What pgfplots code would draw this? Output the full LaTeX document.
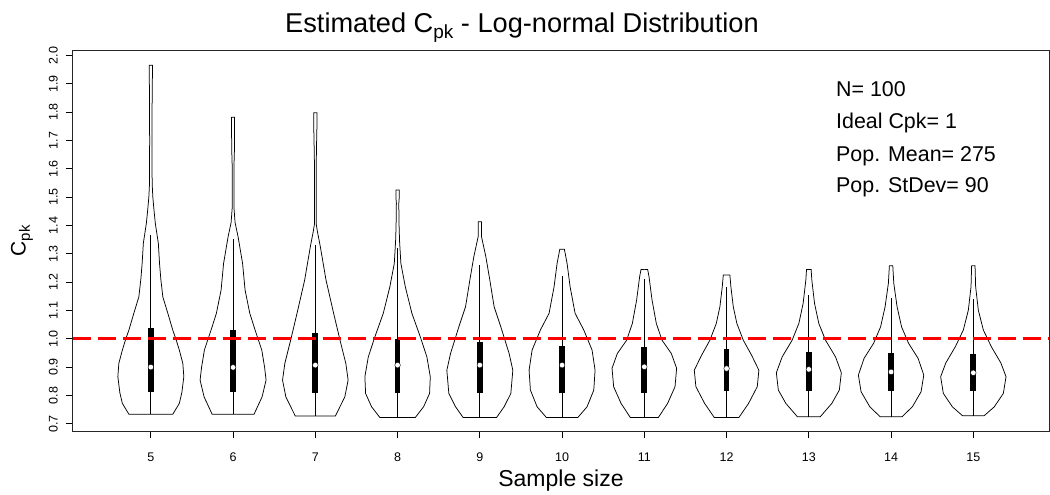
\documentclass[border=0pt]{standalone}
\usepackage{fontspec}
\setmainfont{Liberation Sans}
\usepackage{pgfplots}
\usepackage{pgfplotstable}
\pgfplotsset{compat=1.18}

% violin profiles: v = Cpk value, w = half width (px, 82.26 px per x unit)
\pgfplotstableread{
v w
0.734 0
0.734 22
0.772 28.5
0.81 31
0.866 33
0.913 32
0.96 28.5
1.00 25
1.03 22
1.09 17
1.148 12
1.21 10
1.266 8.7
1.337 7.5
1.407 4.5
1.46 3
1.50 2
1.55 1.3
1.70 1.2
1.85 1.3
1.966 1.7
1.966 0
}\vA
\pgfplotstableread{
v w
0.734 0
0.734 21
0.795 29
0.854 33
0.90 31.5
0.96 28.7
1.031 22
1.09 16.7
1.172 12
1.266 9.5
1.36 5
1.41 2
1.466 0.8
1.60 0.8
1.66 1.3
1.72 1.5
1.782 1.5
1.782 0
}\vB
\pgfplotstableread{
v w
0.727 0
0.727 20
0.795 29.5
0.854 32.8
0.913 30.5
0.995 24.7
1.09 18.3
1.207 10.7
1.325 5
1.38 2
1.407 0.8
1.60 0.8
1.70 1.3
1.75 1.6
1.798 1.7
1.798 0
}\vC
\pgfplotstableread{
v w
0.722 0
0.722 17.7
0.76 26
0.807 32
0.866 32.7
0.936 29.3
1.007 22.7
1.09 14.3
1.184 7.7
1.266 3.3
1.343 2
1.40 1.5
1.478 1.2
1.50 1.7
1.525 1.7
1.525 0
}\vD
\pgfplotstableread{
v w
0.722 0
0.722 16.7
0.76 24.3
0.807 31
0.889 33
0.948 29.3
1.042 21
1.113 14.3
1.207 10
1.29 6
1.36 1.7
1.413 1.7
1.413 0
}\vE
\pgfplotstableread{
v w
0.722 0
0.722 15.7
0.76 25
0.819 31.7
0.889 33
0.96 30
1.031 21.7
1.09 13
1.184 8
1.266 5
1.316 2.3
1.316 0
}\vF
\pgfplotstableread{
v w
0.722 0
0.722 14
0.772 23.3
0.831 30.7
0.896 32.3
0.948 27
0.995 17.7
1.054 12
1.137 7.7
1.219 4.7
1.245 3.3
1.245 0
}\vG
\pgfplotstableread{
v w
0.722 0
0.722 12.3
0.772 22
0.831 30.7
0.889 32.3
0.942 25
0.995 16.7
1.054 10.3
1.113 6.7
1.184 4.3
1.225 3.3
1.225 0
}\vH
\pgfplotstableread{
v w
0.725 0
0.725 11.5
0.772 23
0.819 30.5
0.880 32.5
0.936 26.7
0.995 16.7
1.054 10
1.125 5.7
1.207 3
1.245 2.3
1.245 0
}\vI
\pgfplotstableread{
v w
0.725 0
0.725 11
0.760 21.3
0.813 30
0.872 32.7
0.931 27
0.984 17.5
1.042 10.5
1.113 6
1.196 2.7
1.258 1.7
1.258 0
}\vJ
\pgfplotstableread{
v w
0.728 0
0.728 10.7
0.760 21
0.807 30
0.866 32.7
0.915 27.5
0.972 18
1.031 10
1.101 5
1.184 2.3
1.258 1.7
1.258 0
}\vK

\pgfplotsset{vio/.style={black, line width=0.75pt}}
\newcommand{\violin}[2]{%
  \addplot[vio] table[x expr={#1+\thisrow{w}/82.26}, y=v]{#2};
  \addplot[vio] table[x expr={#1-\thisrow{w}/82.26}, y=v]{#2};}
% center, min, q1, median, q3, upper whisker
\newcommand{\vstats}[6]{%
  \addplot[black, line width=0.75pt] coordinates {(#1,#2) (#1,#6)};
  \addplot[black, line width=5.8pt] coordinates {(#1,#3) (#1,#5)};
  \addplot[only marks, mark=*, mark size=2.8pt, mark options={draw=none, fill=white}] coordinates {(#1,#4)};}

\begin{document}
\begin{tikzpicture}
\useasboundingbox (-72.7pt,-63.3pt) rectangle (977.3pt,431.7pt);
\begin{axis}[
  at={(0pt,0pt)}, anchor=south west,
  scale only axis, width=976.3pt, height=381pt,
  xmin=4.05, xmax=15.92, ymin=0.672, ymax=2.017,
  axis line style={black!85, line width=0.8pt},
  xtick={5,6,7,8,9,10,11,12,13,14,15},
  ytick={0.7,0.8,0.9,1.0,1.1,1.2,1.3,1.4,1.5,1.6,1.7,1.8,1.9,2.0},
  xtick pos=bottom, ytick pos=left,
  tick align=outside, major tick length=6.5pt,
  tick style={black, line width=0.8pt},
  /pgf/number format/assume math mode=true,
  ticklabel style={font=\fontsize{12.5}{14}\selectfont},
  xticklabel shift=11pt,
  yticklabel shift=5pt,
  yticklabel style={rotate=90, anchor=south, /pgf/number format/.cd, fixed, fixed zerofill, precision=1},
]
\violin{5}{\vA}
\violin{6}{\vB}
\violin{7}{\vC}
\violin{8}{\vD}
\violin{9}{\vE}
\violin{10}{\vF}
\violin{11}{\vG}
\violin{12}{\vH}
\violin{13}{\vI}
\violin{14}{\vJ}
\violin{15}{\vK}
\vstats{5}{0.734}{0.812}{0.900}{1.038}{1.366}
\vstats{6}{0.734}{0.813}{0.899}{1.031}{1.354}
\vstats{7}{0.727}{0.807}{0.907}{1.021}{1.331}
\vstats{8}{0.722}{0.807}{0.907}{1.000}{1.320}
\vstats{9}{0.722}{0.807}{0.907}{0.988}{1.260}
\vstats{10}{0.722}{0.807}{0.907}{0.975}{1.221}
\vstats{11}{0.722}{0.809}{0.901}{0.972}{1.210}
\vstats{12}{0.722}{0.817}{0.895}{0.963}{1.184}
\vstats{13}{0.725}{0.817}{0.892}{0.952}{1.154}
\vstats{14}{0.725}{0.817}{0.883}{0.951}{1.143}
\vstats{15}{0.728}{0.817}{0.880}{0.946}{1.139}
\addplot[red, line width=2.8pt, dash pattern=on 18pt off 7pt] coordinates {(4.05,1.0) (15.92,1.0)};
\end{axis}
\node[anchor=base west, inner sep=0pt, font=\fontsize{27.2}{30}\selectfont] at (212.3pt,399.5pt)
  {Estimated C\raisebox{-0.22em}{\fontsize{19}{20}\selectfont pk} - Log-normal Distribution};
\node[anchor=base, inner sep=0pt, font=\fontsize{23}{26}\selectfont] at (488.3pt,-54.8pt) {Sample size};
\node[rotate=90, inner sep=0pt, font=\fontsize{21}{24}\selectfont] at (-50.7pt,190.7pt)
  {C\raisebox{-0.2em}{\fontsize{15}{16}\selectfont pk}};
\begin{scope}[every node/.style={anchor=base west, inner sep=0pt, font=\fontsize{21.4}{24}\selectfont}]
\node at (763.3pt,335pt) {N= 100};
\node at (763.3pt,302.7pt) {Ideal Cpk= 1};
\node at (763.3pt,270pt) {Pop. Mean= 275};
\node at (763.3pt,239pt) {Pop. StDev= 90};
\end{scope}
\end{tikzpicture}
\end{document}
